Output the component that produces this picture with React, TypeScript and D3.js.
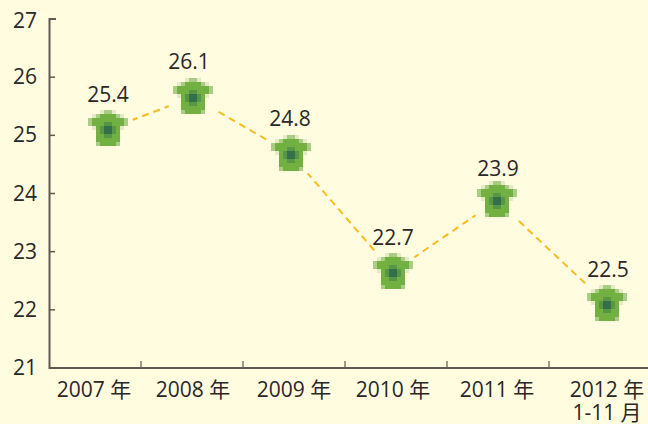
import React from "react";
import * as d3 from "d3";

const categories = ["2007 年", "2008 年", "2009 年", "2010 年", "2011 年", "2012 年"];
const categorySecondLine = ["", "", "", "", "", "1-11 月"];
const valueLabels = ["25.4", "26.1", "24.8", "22.7", "23.9", "22.5"];
const plottedValues = [25.11, 25.66, 24.68, 22.65, 23.88, 22.1];
const markerSlots = [0.681, 1.51, 2.47, 3.47, 4.49, 5.57];
const yTicks = [21, 22, 23, 24, 25, 26, 27];
const xTickSlots = [1, 2, 3, 4, 5];

const FONT = "'Open Sans','Noto Sans CJK SC',sans-serif";
const BG = "#FFFCE0";
const INK = "#2a2726";
const AXIS = "#5f5a50";

const y = d3.scaleLinear().domain([21, 27]).range([368, 19]);
const x = d3.scaleLinear().domain([0, 1]).range([39, 141]);
const labelCenters = [94, 193, 294, 393, 497, 607];
const valueLabelCenters = [108, 189, 290, 393, 498, 608];
const valueLabelOffsets = [-27, -28, -28, -27, -24, -27];

const SHIRT_ROWS = [
  "   ,oo,   ",
  " ,oGGGGo, ",
  "oGGGGGGGGo",
  "oGGGmmGGGo",
  " ,GmDDmG, ",
  "  GmDDmG  ",
  "  GGmmGG  ",
  "  GGGGGG  ",
  "  oGGGGo  ",
];
const SPRITE_COLORS: Record<string, string> = {
  ",": "#E4EBC4",
  o: "#A9CD85",
  G: "#72B042",
  m: "#569645",
  D: "#33704A",
};
const CELL = 4;

export default function App() {
  const line = d3.line<number>().x((s) => x(s)).y((_, i) => y(plottedValues[i]));
  return (
    <svg width={648} height={424} style={{ position: "fixed", left: 0, top: 0, background: BG }} fontFamily={FONT}>
      <rect width={648} height={424} fill={BG} />
      <path d={line(markerSlots) ?? ""} fill="none" stroke="#FDBB1A" strokeWidth={2} strokeDasharray="7 5" />
      {markerSlots.map((s, i) => (
        <circle key={i} cx={x(s)} cy={y(plottedValues[i])} r={26} fill={BG} />
      ))}
      <path d={`M648,368 H49.5 V${y(27)} H56`} fill="none" stroke={AXIS} strokeWidth={2} />
      {yTicks.slice(1, -1).map((t) => (
        <line key={t} x1={49.5} x2={55} y1={y(t)} y2={y(t)} stroke={AXIS} strokeWidth={1.5} />
      ))}
      {xTickSlots.map((s) => (
        <line key={s} x1={x(s)} x2={x(s)} y1={368} y2={361} stroke={AXIS} strokeWidth={1.2} />
      ))}
      {yTicks.map((t) => (
        <text key={t} x={37} y={y(t) + (t === 27 ? 9 : 7)} textAnchor="end" fontSize={21} fill={INK}>{t}</text>
      ))}
      {categories.map((c, i) => (
        <text key={c} x={labelCenters[i]} y={397} textAnchor="middle" fontSize={21} fill={INK}>{c}</text>
      ))}
      {categorySecondLine.map((c, i) => c && (
        <text key={c} x={labelCenters[i]} y={420} textAnchor="middle" fontSize={21} fill={INK}>{c}</text>
      ))}
      {markerSlots.map((s, i) => {
        const cx = Math.round(x(s));
        const cy = Math.round(y(plottedValues[i]));
        return (
          <g key={i}>
            <g transform={`translate(${cx - 20},${cy - 19})`}>
              {SHIRT_ROWS.flatMap((row, r) =>
                row.split("").map((ch, c) =>
                  SPRITE_COLORS[ch] ? (
                    <rect key={`${r}-${c}`} x={c * CELL} y={r * CELL} width={CELL} height={CELL} fill={SPRITE_COLORS[ch]} shapeRendering="crispEdges" />
                  ) : null
                )
              )}
            </g>
            <text x={valueLabelCenters[i]} y={cy + valueLabelOffsets[i]} textAnchor="middle" fontSize={21} fill={INK}>{valueLabels[i]}</text>
          </g>
        );
      })}
    </svg>
  );
}
